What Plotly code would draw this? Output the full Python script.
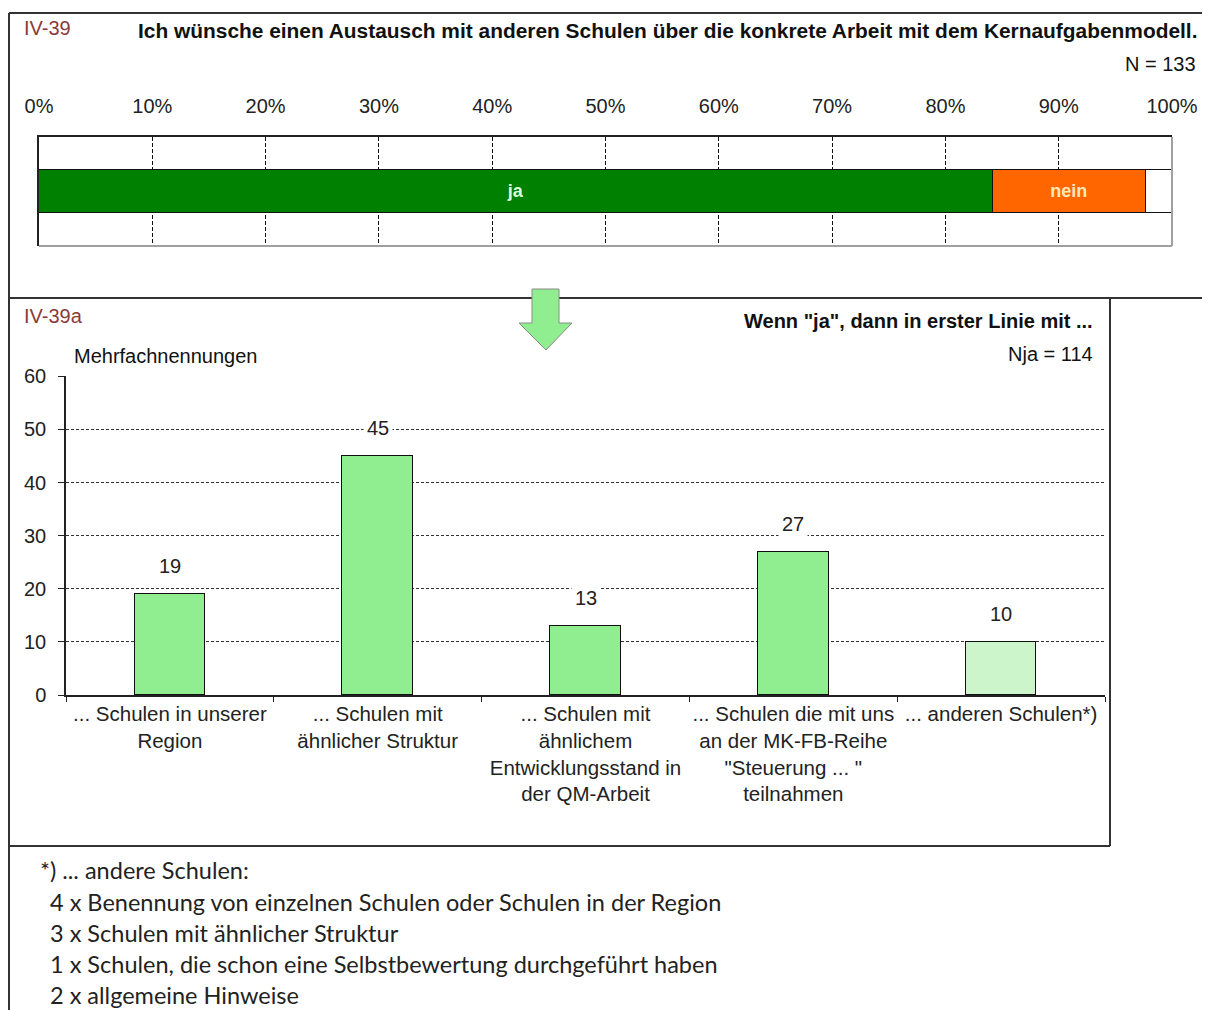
import plotly.graph_objects as go

# the page body has an 8px margin; the figure fills the rest of the window
OFF = 8
W, H = 1210 - OFF, 1010 - OFF

# top question (percent of N = 133)
answer_labels = ["ja", "nein", "k.A."]
answer_values = [84.2, 13.5, 2.3]
answer_colors = ["#008000", "#FF6600", "#FFFFFF"]
answer_text_colors = ["#DDFFDD", "#FFE6B8", "#000000"]
pct_ticks = list(range(0, 101, 10))

# follow-up question (counts, Nja = 114)
categories = [
    "... Schulen in unserer<br>Region",
    "... Schulen mit<br>ähnlicher Struktur",
    "... Schulen mit<br>ähnlichem<br>Entwicklungsstand in<br>der QM-Arbeit",
    "... Schulen die mit uns<br>an der MK-FB-Reihe<br>\"Steuerung ... \"<br>teilnahmen",
    "... anderen Schulen*)",
]
counts = [19, 45, 13, 27, 10]
bar_colors = ["#90EE90", "#90EE90", "#90EE90", "#90EE90", "#CCF5CC"]

footnote_title = "*) ... andere Schulen:"
footnote_lines = [
    "4 x Benennung von einzelnen Schulen oder Schulen in der Region",
    "3 x Schulen mit ähnlicher Struktur",
    "1 x Schulen, die schon eine Selbstbewertung durchgeführt haben",
    "2 x allgemeine Hinweise",
]

FONT = "Liberation Sans, Arial, sans-serif"
NOTE_FONT = "Lato, Open Sans, sans-serif"
FS = 20


def px(x):
    return (x - OFF) / W


def py(y):
    return 1 - (y - OFF) / H


fig = go.Figure()

# stacked horizontal bar
for lab, val, col, tcol in zip(answer_labels, answer_values, answer_colors, answer_text_colors):
    fig.add_trace(go.Bar(
        x=[val], y=["q"], orientation="h", name=lab,
        marker=dict(color=col, line=dict(color="#111111", width=1.5)),
        text=[lab if lab != "k.A." else ""], textposition="inside", insidetextanchor="middle",
        textfont=dict(family=FONT, size=18, color=tcol, weight="bold"),
        width=0.4, xaxis="x", yaxis="y", showlegend=False,
    ))

# vertical bars
fig.add_trace(go.Bar(
    x=categories, y=counts, marker=dict(color=bar_colors, line=dict(color="#111111", width=1.2)),
    width=0.34, xaxis="x2", yaxis="y2", showlegend=False,
))

annotations = []
for c, v in zip(categories, counts):
    annotations.append(dict(
        x=c, y=v, xref="x2", yref="y2", text=str(v), showarrow=False,
        yanchor="bottom", yshift=13, bgcolor="white", borderpad=3,
        font=dict(family=FONT, size=FS, color="#222222"),
    ))


def txt(x, y, s, size=FS, anchor="left", bold=False, color="#111111", family=FONT):
    annotations.append(dict(
        x=px(x), y=py(y), xref="paper", yref="paper", text=s, showarrow=False,
        xanchor=anchor, yanchor="middle",
        font=dict(family=family, size=size, color=color, weight="bold" if bold else "normal"),
    ))


txt(22, 28, "IV-39", color="#8B3A3A")
txt(1199, 30, "Ich wünsche einen Austausch mit anderen Schulen über die konkrete Arbeit mit dem Kernaufgabenmodell.",
    size=20.9, anchor="right", bold=True)
txt(1198, 64, "N = 133", anchor="right")
txt(22, 316, "IV-39a", color="#8B3A3A")
txt(1095, 321, "Wenn \"ja\", dann in erster Linie mit ...", anchor="right", bold=True)
txt(1095, 354, "Nja = 114", anchor="right")
txt(72, 356, "Mehrfachnennungen")
txt(38, 870, footnote_title, size=23.5, family=NOTE_FONT, color="#222222")
for i, line in enumerate(footnote_lines):
    txt(48, 902 + i * 31, line, size=23.5, family=NOTE_FONT, color="#222222")

shapes = [
    # frames
    dict(type="line", xref="paper", yref="paper", x0=px(9), x1=px(1210), y0=py(13), y1=py(13),
         line=dict(color="#333333", width=2)),
    dict(type="line", xref="paper", yref="paper", x0=px(9), x1=px(9), y0=py(13), y1=py(1010),
         line=dict(color="#333333", width=2)),
    dict(type="line", xref="paper", yref="paper", x0=px(9), x1=px(1210), y0=py(298), y1=py(298),
         line=dict(color="#333333", width=2)),
    dict(type="line", xref="paper", yref="paper", x0=px(1110), x1=px(1110), y0=py(298), y1=py(846),
         line=dict(color="#333333", width=2)),
    dict(type="line", xref="paper", yref="paper", x0=px(9), x1=px(1110), y0=py(846), y1=py(846),
         line=dict(color="#333333", width=2)),
    # top plot area gray bottom/right edges
    dict(type="line", xref="x domain", yref="y domain", x0=0, x1=1, y0=0, y1=0,
         line=dict(color="#A0A0A0", width=2)),
    dict(type="line", xref="x domain", yref="y domain", x0=1, x1=1, y0=0, y1=1,
         line=dict(color="#A0A0A0", width=2)),
]

# down arrow between the two panels
ax = [532, 559, 559, 572, 546, 519, 532]
ay = [289, 289, 323, 323, 350, 323, 323]
path = "M " + " L ".join(f"{px(a)},{py(b)}" for a, b in zip(ax, ay)) + " Z"
shapes.append(dict(type="path", xref="paper", yref="paper", path=path,
                   fillcolor="#90EE90", line=dict(color="#8A8A8A", width=1)))

fig.update_layout(
    width=W, height=H, margin=dict(l=0, r=0, t=0, b=0, autoexpand=False),
    paper_bgcolor="white", plot_bgcolor="white",
    barmode="stack", bargap=0,
    font=dict(family=FONT, size=FS, color="#222222"),
    annotations=annotations, shapes=shapes,
    xaxis=dict(domain=[px(39), px(1172)], range=[0, 100], side="top",
               tickvals=pct_ticks, ticktext=[f"{t}%" for t in pct_ticks],
               showgrid=True, gridcolor="#111111", griddash="4px,2px", gridwidth=1,
               showline=True, linecolor="#222222", linewidth=2, ticks="", ticklabelstandoff=14,
               zeroline=False, fixedrange=True, anchor="y", automargin=False),
    yaxis=dict(domain=[py(246), py(137)], showticklabels=False, showline=True, linecolor="#222222",
               linewidth=2, ticks="", showgrid=False, fixedrange=True, anchor="x", automargin=False),
    xaxis2=dict(domain=[px(66), px(1105)], anchor="y2", tickangle=0, tickson="boundaries",
                ticks="outside", ticklen=5, tickcolor="#222222", showline=True, linecolor="#222222",
                linewidth=1.5, showgrid=False, fixedrange=True, tickfont=dict(size=20.5),
                automargin=False),
    yaxis2=dict(domain=[py(695), py(376)], anchor="x2", range=[0, 60.05],
                tickvals=[0, 10, 20, 30, 40, 50, 60],
                ticks="outside", ticklen=6, tickcolor="#222222", showline=True, linecolor="#222222",
                linewidth=1.5, showgrid=True, gridcolor="#333333", griddash="3px,2px", gridwidth=1,
                zeroline=False, fixedrange=True, ticklabelstandoff=8, automargin=False),
)

fig.write_html("out.html")
